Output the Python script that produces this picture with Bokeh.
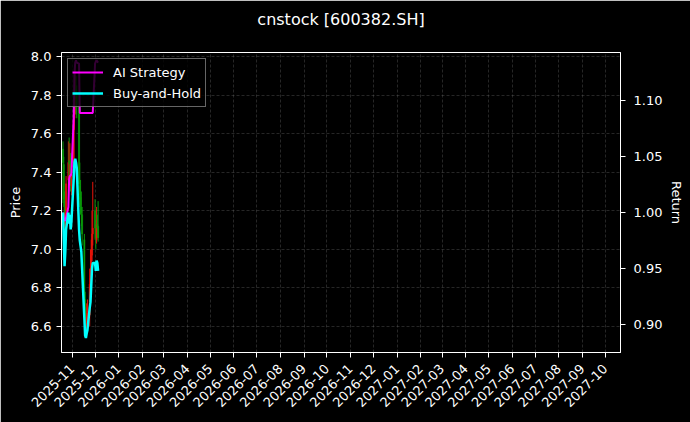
import math
from datetime import datetime
from bokeh.plotting import figure
from bokeh.models import (Range1d, LinearAxis, FixedTicker, DatetimeTickFormatter,
                          NumeralTickFormatter, ColumnDataSource, Legend, LegendItem)
from bokeh.embed import file_html
from bokeh.resources import INLINE

# ---------------- data ----------------
dates = ["2025-10-20", "2025-10-21", "2025-10-22", "2025-10-23", "2025-10-24",
         "2025-10-27", "2025-10-28", "2025-10-29", "2025-10-30", "2025-10-31",
         "2025-11-03", "2025-11-04", "2025-11-05", "2025-11-06", "2025-11-07",
         "2025-11-10", "2025-11-11", "2025-11-12", "2025-11-13", "2025-11-14",
         "2025-11-17", "2025-11-18", "2025-11-19", "2025-11-20", "2025-11-21",
         "2025-11-24", "2025-11-25", "2025-11-26", "2025-11-27", "2025-11-28",
         "2025-12-01", "2025-12-02", "2025-12-03", "2025-12-04", "2025-12-05"]

open_ = [7.52, 7.44, 7.25, 7.10, 7.20, 7.36, 7.46, 7.38, 7.45, 7.33,
         7.40, 7.68, 7.78, 7.83, 7.80, 7.74, 7.33, 7.27, 7.22, 7.18,
         7.05, 6.74, 6.64, 6.61, 6.64, 6.66, 6.82, 6.86, 6.97, 7.08,
         7.20, 7.11, 7.05, 7.13, 7.12]
high = [7.56, 7.48, 7.30, 7.22, 7.38, 7.56, 7.58, 7.55, 7.50, 7.45,
        7.72, 7.88, 7.95, 7.90, 7.85, 7.80, 7.45, 7.36, 7.30, 7.22,
        7.08, 6.78, 6.70, 6.72, 6.74, 6.90, 7.00, 7.05, 7.20, 7.35,
        7.26, 7.15, 7.22, 7.18, 7.25]
low = [7.24, 7.22, 7.05, 7.06, 7.18, 7.32, 7.35, 7.36, 7.30, 7.28,
       7.38, 7.62, 7.70, 7.70, 7.68, 7.30, 7.22, 7.18, 7.12, 7.02,
       6.70, 6.58, 6.54, 6.56, 6.58, 6.60, 6.76, 6.82, 6.94, 7.02,
       7.05, 7.00, 7.03, 7.06, 7.04]
close = [7.45, 7.26, 7.09, 7.19, 7.34, 7.45, 7.38, 7.44, 7.34, 7.39,
         7.67, 7.79, 7.81, 7.79, 7.75, 7.34, 7.26, 7.23, 7.19, 7.08,
         6.74, 6.63, 6.62, 6.65, 6.67, 6.82, 6.85, 6.97, 7.08, 7.11,
         7.11, 7.06, 7.13, 7.11, 7.06]

bh_return = [1.000, 0.975, 0.952, 0.965, 0.985, 1.000, 0.990, 0.998, 0.985, 0.992,
             1.030, 1.045, 1.048, 1.045, 1.040, 0.985, 0.975, 0.970, 0.965, 0.950,
             0.905, 0.890, 0.888, 0.892, 0.895, 0.915, 0.920, 0.935, 0.950, 0.955,
             0.955, 0.948, 0.957, 0.955, 0.948]
ai_return = [1.000, 0.995, 0.993, 0.993, 0.995, 1.005, 1.030, 1.033, 1.033, 1.035,
             1.085, 1.125, 1.134, 1.136, 1.134, 1.133, 1.089, 1.089, 1.089, 1.089,
             1.089, 1.089, 1.089, 1.089, 1.089, 1.089, 1.089, 1.089, 1.089, 1.089,
             1.133, 1.135, 1.136, 1.135, 1.134]

month_ticks = ["2025-11", "2025-12", "2026-01", "2026-02", "2026-03", "2026-04",
               "2026-05", "2026-06", "2026-07", "2026-08", "2026-09", "2026-10",
               "2026-11", "2026-12", "2027-01", "2027-02", "2027-03", "2027-04",
               "2027-05", "2027-06", "2027-07", "2027-08", "2027-09", "2027-10"]
price_ticks = [6.6, 6.8, 7.0, 7.2, 7.4, 7.6, 7.8, 8.0]
return_ticks = [0.90, 0.95, 1.00, 1.05, 1.10]

title = "cnstock [600382.SH]"

# ---------------- build ----------------
FONT = "DejaVu Sans"
x = [datetime.strptime(d, "%Y-%m-%d") for d in dates]
up_col, dn_col = "#e8140a", "#0a9a0a"
colors = [up_col if c >= o else dn_col for o, c in zip(open_, close)]
src = ColumnDataSource(dict(
    x=x, o=open_, h=high, l=low, c=close,
    top=[max(o, c) for o, c in zip(open_, close)],
    bottom=[min(o, c) for o, c in zip(open_, close)],
    color=colors))

p = figure(width=690, height=422, x_axis_type="datetime",
           x_range=Range1d(datetime(2025, 10, 18), datetime(2027, 10, 21)),
           y_range=Range1d(6.465, 8.021),
           output_backend="svg", toolbar_location=None,
           min_border_left=61, min_border_right=70,
           min_border_top=52, min_border_bottom=70)

p.background_fill_color = "black"
p.border_fill_color = "black"
p.outline_line_color = "white"
p.outline_line_width = 1

p.title.text = title
p.title.align = "center"
p.title.vertical_align = "top"
p.title.standoff = 0
try:
    p.title.padding = dict(left=0, right=0, top=0, bottom=22)
except Exception:
    p.title.standoff = 20
p.title.text_color = "white"
p.title.text_font = FONT
p.title.text_font_size = "16px"
p.title.text_font_style = "normal"

# candles
day = 86400000
p.segment(x0="x", y0="l", x1="x", y1="h", color="color", line_width=1, source=src)
p.vbar(x="x", width=1.5 * day, top="top", bottom="bottom", fill_color="color",
       line_color="color", line_width=0.5, source=src)

# returns on right axis
p.extra_y_ranges = {"ret": Range1d(0.875, 1.143)}
r_ai = p.line(x, ai_return, y_range_name="ret", color="#ff00ff", line_width=2)
r_bh = p.line(x, bh_return, y_range_name="ret", color="#00ffff", line_width=2.5)

right = LinearAxis(y_range_name="ret", axis_label="Return")
p.add_layout(right, "right")

# axes styling
month_ms = [datetime.strptime(m + "-01", "%Y-%m-%d").timestamp() * 1000 for m in month_ticks]
p.xaxis.ticker = FixedTicker(ticks=month_ms)
fmt = "%Y-%m"
p.xaxis.formatter = DatetimeTickFormatter(years=fmt, months=fmt, days=fmt, hours=fmt,
                                          minutes=fmt, seconds=fmt, milliseconds=fmt,
                                          microseconds=fmt, minsec=fmt, hourmin=fmt)
p.xaxis.major_label_orientation = math.pi / 4

p.yaxis[0].ticker = FixedTicker(ticks=price_ticks)
p.yaxis[0].formatter = NumeralTickFormatter(format="0.0")
p.yaxis[0].axis_label = "Price"
right.ticker = FixedTicker(ticks=return_ticks)
right.formatter = NumeralTickFormatter(format="0.00")

for ax in p.xaxis + p.yaxis:
    ax.axis_line_color = "white"
    ax.major_tick_line_color = "white"
    ax.minor_tick_line_color = None
    ax.major_tick_out = 5
    ax.major_tick_in = 0
    ax.major_label_text_color = "white"
    ax.major_label_text_font = FONT
    ax.major_label_text_font_size = "13px"
    ax.axis_label_text_color = "white"
    ax.axis_label_text_font = FONT
    ax.axis_label_text_font_size = "13px"
    ax.axis_label_text_font_style = "normal"
p.xaxis.major_label_standoff = 9
p.yaxis[0].axis_label_standoff = 5
right.major_label_standoff = 8
right.axis_label_standoff = 4

# grid
p.xgrid.grid_line_color = "#6a6a6a"
p.xgrid.grid_line_alpha = 0.6
p.xgrid.grid_line_dash = "3 2"
p.xgrid.grid_line_width = 0.6
p.ygrid.grid_line_color = "#6a6a6a"
p.ygrid.grid_line_alpha = 0.6
p.ygrid.grid_line_dash = "3 2"
p.ygrid.grid_line_width = 0.6

legend = Legend(items=[LegendItem(label="AI Strategy", renderers=[r_ai]),
                       LegendItem(label="Buy-and-Hold", renderers=[r_bh])],
                location="top_left")
legend.margin = 6
legend.padding = 4
legend.spacing = 3
legend.glyph_width = 31
legend.glyph_height = 18
legend.label_standoff = 10
legend.label_text_color = "white"
legend.label_text_font = FONT
legend.label_text_font_size = "13px"
legend.background_fill_color = "black"
legend.background_fill_alpha = 0.8
legend.border_line_color = "#cccccc"
legend.border_line_width = 1
p.add_layout(legend)

open("out.html", "w").write(file_html(p, INLINE))
